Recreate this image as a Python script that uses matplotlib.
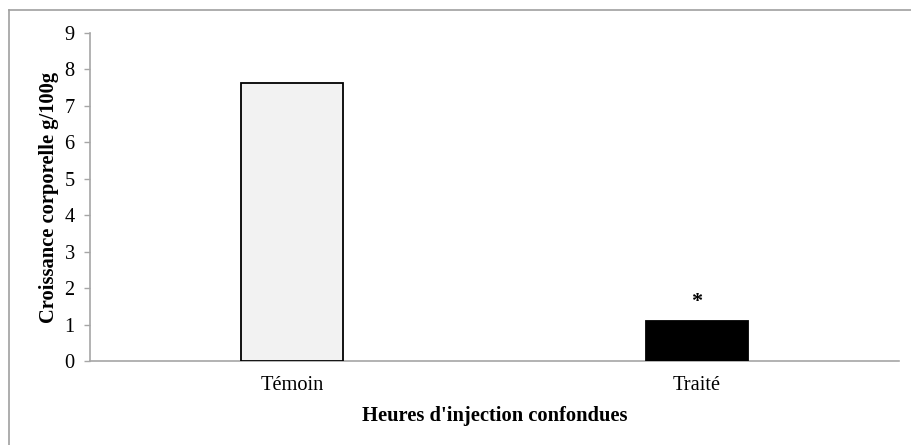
import numpy as np
import matplotlib.pyplot as plt
from matplotlib.lines import Line2D

groupes = ['Témoin', 'Traité']
croissance = [7.63, 1.1]
couleurs = ['#f2f2f2', '#000000']
signif = ['', '*']

plt.rcParams['font.family'] = ['Liberation Serif', 'DejaVu Serif']

fig = plt.figure(figsize=(9.11, 4.45), dpi=100)
ax = fig.add_axes([90/911, 1 - 361/445, 809/911, 328/445])

x = np.arange(len(groupes))
barres = ax.bar(x, croissance, width=0.252, color=couleurs,
                edgecolor='black', linewidth=1.3, zorder=3)
for xi, v, s in zip(x, croissance, signif):
    if s:
        ax.text(xi, v + 0.25, s, ha='center', va='bottom',
                fontsize=16, fontweight='bold')

ax.set_xlim(-0.5, 1.5)
ax.set_ylim(0, 9)
ax.set_yticks(range(0, 10))
ax.set_xticks(x)
ax.set_xticklabels(groupes)
ax.tick_params(axis='x', length=0, pad=11, labelsize=14.7)
ax.tick_params(axis='y', length=4, width=1, color='#a6a6a6', pad=7, labelsize=14.7)

for side in ['top', 'right']:
    ax.spines[side].set_visible(False)
for side in ['left', 'bottom']:
    ax.spines[side].set_color('#a6a6a6')
    ax.spines[side].set_linewidth(1.2)

ax.set_ylabel('Croissance corporelle g/100g', fontsize=14.8, fontweight='bold')
ax.yaxis.set_label_coords(-31/809, 0.5)
ax.set_xlabel("Heures d'injection confondues", fontsize=14.8, fontweight='bold', labelpad=8)

# cadre de la figure (haut et gauche)
fig.add_artist(Line2D([9/911, 1], [1 - 10/445, 1 - 10/445], color='#a0a0a0', lw=1.2,
                      transform=fig.transFigure))
fig.add_artist(Line2D([9/911, 9/911], [0, 1 - 10/445], color='#a0a0a0', lw=1.2,
                      transform=fig.transFigure))

fig.savefig('out.png', dpi=100)
